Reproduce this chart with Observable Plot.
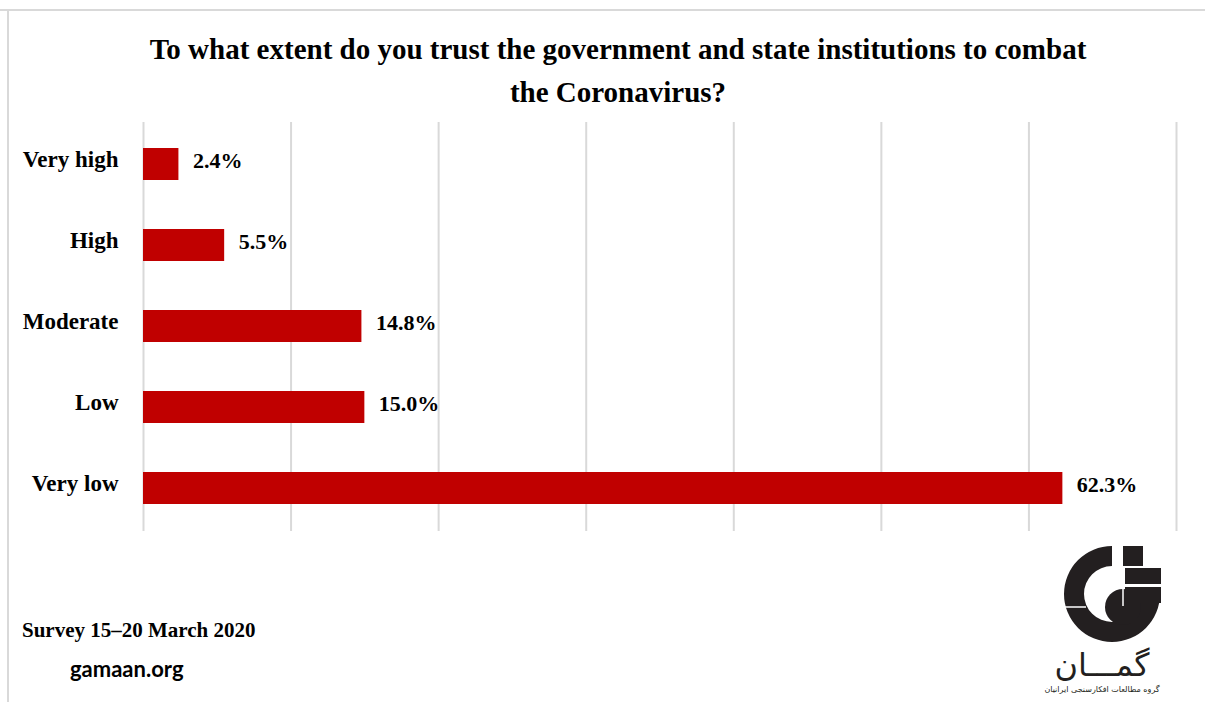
<!DOCTYPE html>
<html>
<head>
<meta charset="utf-8">
<script src="https://cdn.jsdelivr.net/npm/d3@7"></script>
<script src="https://cdn.jsdelivr.net/npm/@observablehq/plot@0.6"></script>
<style>
  html, body { margin: 0; padding: 0; background: #fff; }
  #page { position: relative; width: 1205px; height: 702px; overflow: hidden; background: #fff; }
  .border-top { position: absolute; left: 0; top: 9px; width: 1205px; height: 2px; background: #d9d9d9; }
  .border-left { position: absolute; left: 7px; top: 9px; width: 2px; height: 693px; background: #d9d9d9; }
  #title { position: absolute; left: 30px; top: 28px; width: 1176px; text-align: center;
    font-family: "Liberation Serif", serif; font-weight: bold; font-size: 29px; line-height: 43px; color: #000; }
  #chart { position: absolute; left: 0; top: 115px; }
  #survey { position: absolute; left: 22px; top: 618px; font-family: "Liberation Serif", serif; font-weight: bold; font-size: 21px; color: #000; }
  #site { position: absolute; left: 70px; top: 655px; font-family: Lato, sans-serif; font-weight: bold; font-size: 22px; color: #000; }
  #logo { position: absolute; left: 1040px; top: 530px; }
</style>
</head>
<body>
<div id="page">
  <div class="border-top"></div>
  <div class="border-left"></div>
  <div id="title">To what extent do you trust the government and state institutions to combat<br>the Coronavirus?</div>
  <div id="chart"></div>
  <div id="survey">Survey 15–20 March 2020</div>
  <div id="site">gamaan.org</div>
  <svg id="logo" width="165" height="172" viewBox="0 0 165 172">
    <path d="M72,16 A48,48 0 1 0 120,64 L100,64 A28,28 0 1 1 72,36 Z" fill="#231f20"/>
    <line x1="22" y1="77" x2="46" y2="77" stroke="#fff" stroke-width="1.5"/>
    <circle cx="83" cy="77" r="18" fill="#231f20"/>
    <rect x="83" y="16" width="20" height="20" fill="#231f20"/>
    <rect x="85" y="38" width="36" height="16" fill="#231f20"/>
    <rect x="85" y="57" width="36" height="16" fill="#231f20"/>
    <line x1="83" y1="56" x2="83" y2="76" stroke="#fff" stroke-width="1.5"/>
    <text x="62" y="146" text-anchor="middle" font-family="DejaVu Sans" font-size="32" fill="#231f20" direction="rtl">گمـــان</text>
    <text x="62" y="162" text-anchor="middle" font-family="DejaVu Sans" font-size="8" fill="#231f20" direction="rtl">گروه مطالعات افکارسنجی ایرانیان</text>
  </svg>
</div>
<script>
const categories = ["Very high", "High", "Moderate", "Low", "Very low"];
const values = [2.4, 5.5, 14.8, 15.0, 62.3];
const gridTicks = [0, 10, 20, 30, 40, 50, 60, 70];

const data = categories.map((c, i) => ({category: c, value: values[i]}));

const chart = Plot.plot({
  width: 1205,
  height: 430,
  marginTop: 7,
  marginBottom: 14,
  marginLeft: 143,
  marginRight: 29,
  x: {domain: [0, 70], axis: null},
  y: {domain: categories, paddingInner: 0.6, paddingOuter: 0.317, label: null},
  style: {fontFamily: "'Liberation Serif', serif", fontSize: "22px", color: "#000", background: "transparent"},
  marks: [
    Plot.ruleX(gridTicks, {x: d => d, stroke: "#d9d9d9", strokeWidth: 2, strokeOpacity: 1}),
    Plot.barX(data, {x: "value", y: "category", fill: "#c00000"}),
    Plot.text(data, {x: "value", y: "category", text: d => d.value.toFixed(1) + "%", dx: 14, dy: -4, textAnchor: "start",
      fill: "#000", fontSize: 22, fontWeight: "bold"}),
    Plot.axisY({tickSize: 0, tickPadding: 25, dy: -5, fontSize: 23, fontWeight: "bold", label: null})
  ]
});
document.getElementById("chart").appendChild(chart);
</script>
</body>
</html>
